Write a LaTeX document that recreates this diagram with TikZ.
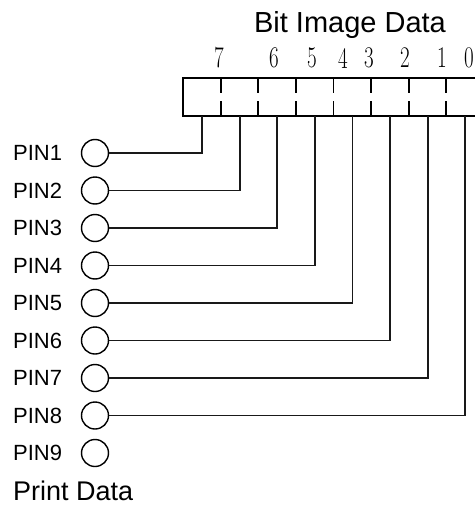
\documentclass[tikz,border=0pt]{standalone}
\usepackage{fontspec}
\newfontfamily\pinfont{Liberation Sans}

\begin{document}
\begin{tikzpicture}[x=1pt, y=-1pt]
        \tikzstyle{pin_hole}=[draw, shape=circle, line width=1.4pt, minimum size=27pt, inner sep=0pt];
        \tikzstyle{pin_label}=[font=\pinfont\fontsize{22}{24}\selectfont, anchor=west, inner sep=0pt];
        \tikzstyle{bit_digit}=[font=\fontsize{30}{32}\selectfont, inner sep=0pt];
        \tikzstyle{wire}=[line width=1.8pt, color=black!90];
        \useasboundingbox (0,0) rectangle (474,506);

        % title
        \node[font=\pinfont\fontsize{29}{31}\selectfont, anchor=base] (title) at (350, 32) {Bit Image Data};

        % bit numbers
        \foreach \d/\x in {7/219, 6/274, 5/312, 4/343, 3/369, 2/405, 1/442, 0/469}{
          \node[bit_digit] (d\d) at (\x, 58) {\scalebox{0.7}[1]{\d}};
        }

        % data byte
        \draw[line width=2.2pt] (183, 78) rectangle (484, 116);
        \foreach \j in {1,...,7}{
          \draw[line width=1.8pt, dash pattern=on 15pt off 8pt] (183+\j*37.6, 78) -- (183+\j*37.6, 116);
        }

        % pins
        \foreach \k in {1,...,9}{
          \node[pin_label] (l\k) at (13, 153+\k*37.5-37.5) {PIN\k};
          \node[pin_hole] (p\k) at (95, 153+\k*37.5-37.5) {};
        }

        % wires pin -> bit
        \foreach \k in {1,...,8}{
          \coordinate (b\k) at (202+\k*37.6-37.6, 116);
          \draw[wire] (p\k.east) -| (b\k);
        }

        \node[font=\pinfont\fontsize{27}{29}\selectfont, anchor=west, inner sep=0pt] (print) at (13, 491) {Print Data};
\end{tikzpicture}
\end{document}
